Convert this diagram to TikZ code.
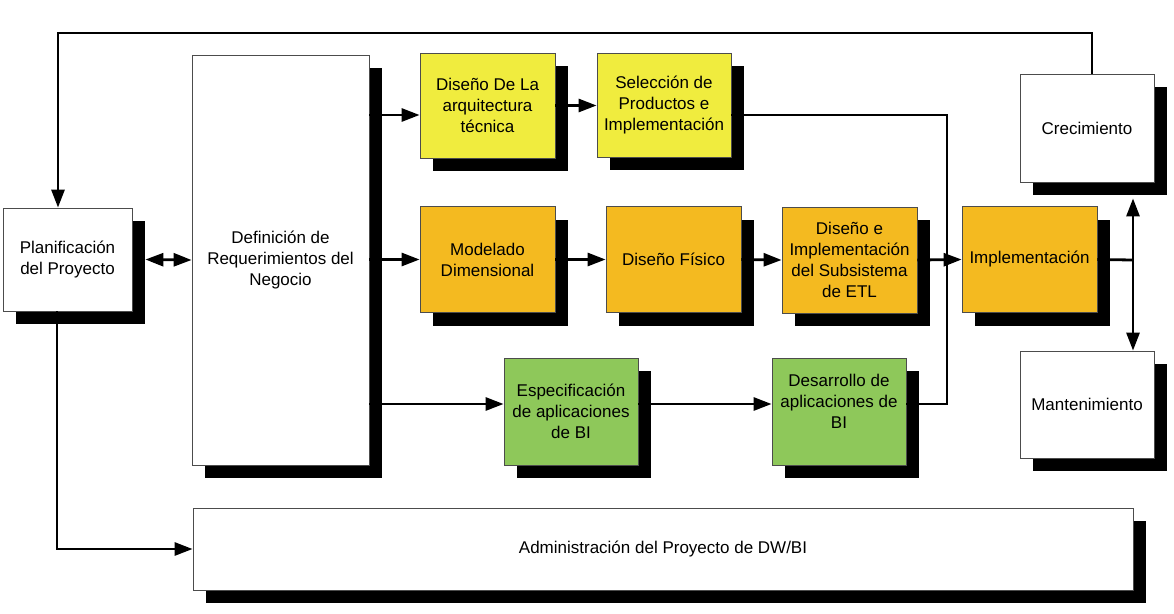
\documentclass[tikz,border=0pt]{standalone}
\usepackage{fontspec}
\setmainfont{Liberation Sans}
\usepackage{tikz}
\usetikzlibrary{calc}
\usetikzlibrary{arrows.meta}
\usetikzlibrary{shadows}
\usepackage{xcolor}
\definecolor{amarillo}{RGB}{240,236,62}
\definecolor{naranja}{RGB}{244,186,32}
\definecolor{verde}{RGB}{142,200,90}

\begin{document}
\begin{tikzpicture}[x=1pt,y=-1pt]
		\pgfmathsetmacro{\sh}{13}
		\tikzstyle{caja}=[draw=black!70, line width=.8pt, fill=white, align=center, inner sep=2pt,
			font=\fontsize{17}{21}\selectfont,
			drop shadow={shadow xshift=\sh pt, shadow yshift=-\sh pt, fill=black, opacity=1}]
		\tikzstyle{fase}=[caja, minimum width=135pt, minimum height=106pt]
		\tikzstyle{linea}=[draw, line width=2.8pt, black]
		\tikzstyle{flecha}=[linea, -{Triangle[length=18pt,width=13pt]}]
		\tikzstyle{dflecha}=[linea, {Triangle[length=18pt,width=13pt]}-{Triangle[length=18pt,width=13pt]}]
		\useasboundingbox (0,0) rectangle (1174,613);

		\node[caja, minimum width=129pt, minimum height=103pt] (plan) at (67.5,259.5) {Planificación\\del Proyecto};
		\node[caja, minimum width=177pt, minimum height=410pt] (defin) at (280.5,260) {Definición de\\Requerimientos del\\Negocio};

		\node[fase, fill=amarillo, minimum height=105pt] (arq) at (487.5,105.5) {Diseño De La\\arquitectura\\técnica};
		\node[fase, fill=amarillo, minimum width=134pt, minimum height=104pt] (sel) at (664,105) {Selección de\\Productos e\\Implementación};

		\node[fase, fill=naranja] (mod) at (487.5,259.5) {Modelado\\Dimensional};
		\node[fase, fill=naranja] (fis) at (673.5,259.5) {Diseño Físico};
		\node[fase, fill=naranja] (etl) at (849.5,260) {Diseño e\\Implementación\\del Subsistema\\de ETL};
		\node[fase, fill=naranja] (impl) at (1029.5,259.5) {Implementación};

		\node[fase, fill=verde, minimum width=134pt, minimum height=107pt] (esp) at (571,411.5) {Especificación\\de aplicaciones\\de BI};
		\node[fase, fill=verde, minimum width=134pt, minimum height=107pt, text depth=21pt] (des) at (839,411.5) {Desarrollo de\\aplicaciones de\\BI};

		\node[caja, minimum width=134pt, minimum height=108pt] (crec) at (1087,128) {Crecimiento};
		\node[caja, minimum width=134pt, minimum height=107pt] (mant) at (1087,404.5) {Mantenimiento};

		\node[caja, minimum width=940pt, minimum height=82pt] (admin) at (663,549) {Administración del Proyecto de DW/BI};

		\coordinate (arqin) at ([yshift=-9.5pt]arq.west);
		\coordinate (selout) at ([yshift=-10pt]sel.east);
		\coordinate (espin) at ([yshift=7.5pt]esp.west);
		\coordinate (desout) at ([yshift=7.5pt]des.east);
		\coordinate (bus) at (947,260);
		\coordinate (eje) at (1133,260);
		\coordinate (top) at (58,33);

		% desde la definicion
		\draw[flecha] (defin.east |- arqin) -- (arqin);
		\draw[flecha] (defin.east |- mod.west) -- (mod.west);
		\draw[flecha] (defin.east |- espin) -- (espin);
		\draw[dflecha] ([xshift=\sh pt]plan.east) -- (defin.west);

		\draw[flecha] (arq.east) -- (arq.east -| sel.west);
		\draw[flecha] (mod.east) -- (fis.west);
		\draw[flecha] (fis.east) -- (etl.west);
		\draw[flecha] (etl.east) -- (impl.west);
		\draw[flecha] ([yshift=7.5pt]esp.east) -- ([yshift=7.5pt]des.west);

		\draw[linea] (selout) -| (bus |- desout) -- (desout);

		\draw[linea] (impl.east) -- (eje);
		\draw[dflecha] ([yshift=-16pt]crec.south -| eje) -- (mant.north -| eje);

		% lazos exteriores
		\draw[flecha] ([xshift=5pt]crec.north) |- (top) -- (top |- plan.north);
		\draw[flecha] ([xshift=-10.5pt]plan.south) |- (admin.west);
	\end{tikzpicture}
\end{document}
